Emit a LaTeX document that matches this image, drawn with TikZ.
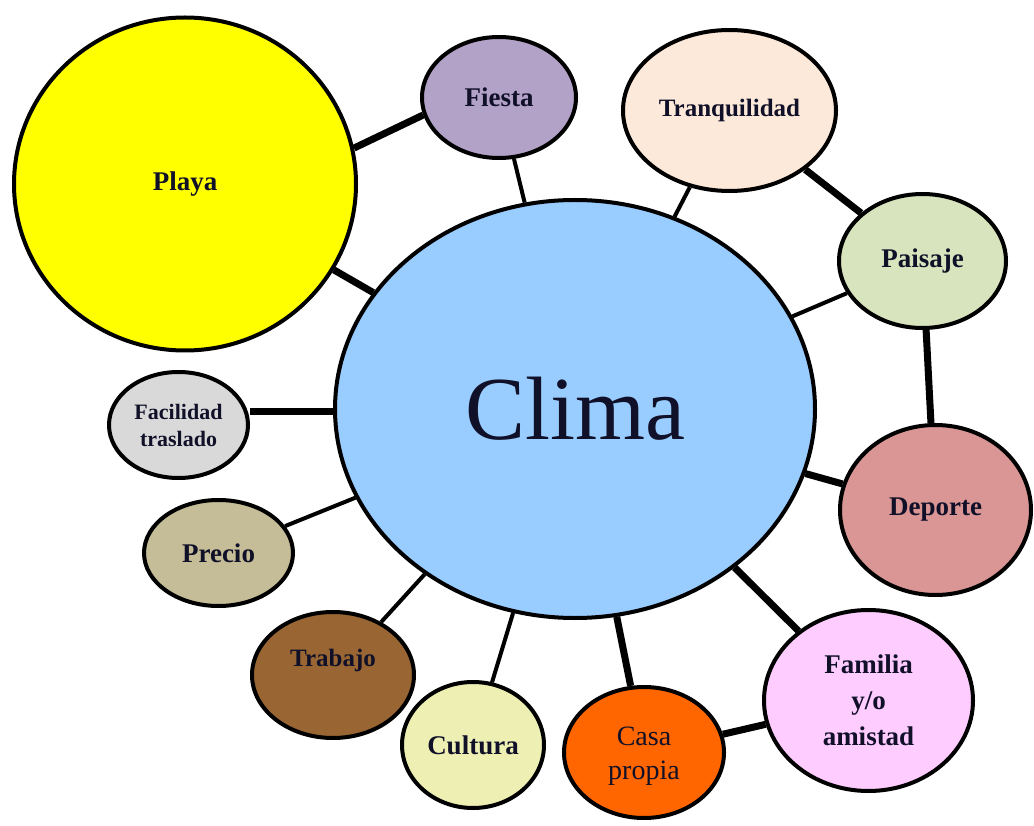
\documentclass[tikz,border=0pt]{standalone}
\usepackage{fontspec}
\setmainfont{Liberation Serif}
\usetikzlibrary{shapes.geometric}
\definecolor{cPlaya}{HTML}{FFFF00}
\definecolor{cFiesta}{HTML}{B3A2C7}
\definecolor{cTranq}{HTML}{FDE9D9}
\definecolor{cPaisaje}{HTML}{D7E4BD}
\definecolor{cClima}{HTML}{99CCFF}
\definecolor{cFacil}{HTML}{D9D9D9}
\definecolor{cDeporte}{HTML}{D99694}
\definecolor{cPrecio}{HTML}{C4BD97}
\definecolor{cTrabajo}{HTML}{996633}
\definecolor{cCultura}{HTML}{EEF0B3}
\definecolor{cCasa}{HTML}{FF6600}
\definecolor{cFamilia}{HTML}{FFCCFF}
\definecolor{txt}{HTML}{101028}
\tikzset{
  bub/.style={ellipse, draw=black, line width=4pt, inner sep=0pt, text=txt, align=center,
    font=\fontsize{27}{35}\selectfont\bfseries},
  thick link/.style={line width=7pt},
  thin link/.style={line width=4pt},
}
\begin{document}
\begin{tikzpicture}[x=1pt,y=-1pt]
\useasboundingbox (0,0) rectangle (1034,826);
% connectors
\coordinate (Pc) at (185,184);
\coordinate (Fc) at (499,97.5);
\coordinate (Tc) at (729.5,110.5);
\coordinate (Sc) at (922.5,261);
\coordinate (Cc) at (575,409);
\coordinate (Ac) at (178.5,425);
\coordinate (Dc) at (935.5,510);
\coordinate (Rc) at (218.5,553);
\coordinate (Bc) at (333,675);
\coordinate (Uc) at (473,745);
\coordinate (Kc) at (644,752.5);
\coordinate (Mc) at (868.5,700.5);
\node[bub, fill=cPlaya, minimum width=342pt, minimum height=333pt] (playa) at (Pc) {Playa};
\node[bub, fill=cFiesta, minimum width=154pt, minimum height=121pt] (fiesta) at (Fc) {Fiesta};
\node[bub, fill=cTranq, minimum width=213pt, minimum height=161pt, font=\fontsize{25}{30}\selectfont\bfseries] (tranq) at (Tc) {Tranquilidad};
\node[bub, fill=cPaisaje, minimum width=167pt, minimum height=134pt] (paisaje) at (Sc) {Paisaje};
\node[bub, fill=cClima, minimum width=480pt, minimum height=418pt, font=\fontsize{90}{100}\selectfont] (clima) at (Cc) {Clima};
\node[bub, fill=cFacil, minimum width=139pt, minimum height=106pt, font=\fontsize{22}{27}\selectfont\bfseries] (facil) at (Ac) {Facilidad\\traslado};
\node[bub, fill=cDeporte, minimum width=191pt, minimum height=170pt] (deporte) at (Dc) {Deporte};
\node[bub, fill=cPrecio, minimum width=149pt, minimum height=106pt] (precio) at (Rc) {Precio};
\node[bub, fill=cTrabajo, minimum width=162pt, minimum height=126pt, label={[font=\fontsize{25}{30}\selectfont\bfseries, text=txt, yshift=15pt]center:Trabajo}] (trabajo) at (Bc) {};
\node[bub, fill=cCultura, minimum width=142pt, minimum height=126pt] (cultura) at (Uc) {Cultura};
\node[bub, fill=cCasa, minimum width=160pt, minimum height=131pt, label={[font=\fontsize{28}{34}\selectfont, text=txt, align=center, yshift=-4pt]center:Casa\\propia}] (casa) at (Kc) {};
\node[bub, fill=cFamilia, minimum width=209pt, minimum height=181pt, font=\fontsize{27}{36}\selectfont\bfseries] (familia) at (Mc) {Familia\\y/o\\amistad};
% links
\draw[thick link] (playa.12) -- (fiesta.193);
\draw[thick link] (playa) -- (clima);
\draw[thin link] (fiesta) -- (clima);
\draw[thin link] (tranq) -- (clima);
\draw[thick link] (tranq) -- (paisaje);
\draw[thin link] (paisaje) -- (clima);
\draw[thick link] (paisaje) -- (deporte);
\draw[thick link] (deporte) -- (clima);
\draw[thick link] (clima) -- (familia);
\draw[thick link] (clima) -- (casa);
\draw[thick link] (casa) -- (familia);
\draw[thin link] (clima) -- (cultura);
\draw[thin link] (clima) -- (trabajo);
\draw[thin link] (clima) -- (precio);
\draw[thick link] (facil.east |- 0,411) -- (clima.west |- 0,411);
\end{tikzpicture}
\end{document}
